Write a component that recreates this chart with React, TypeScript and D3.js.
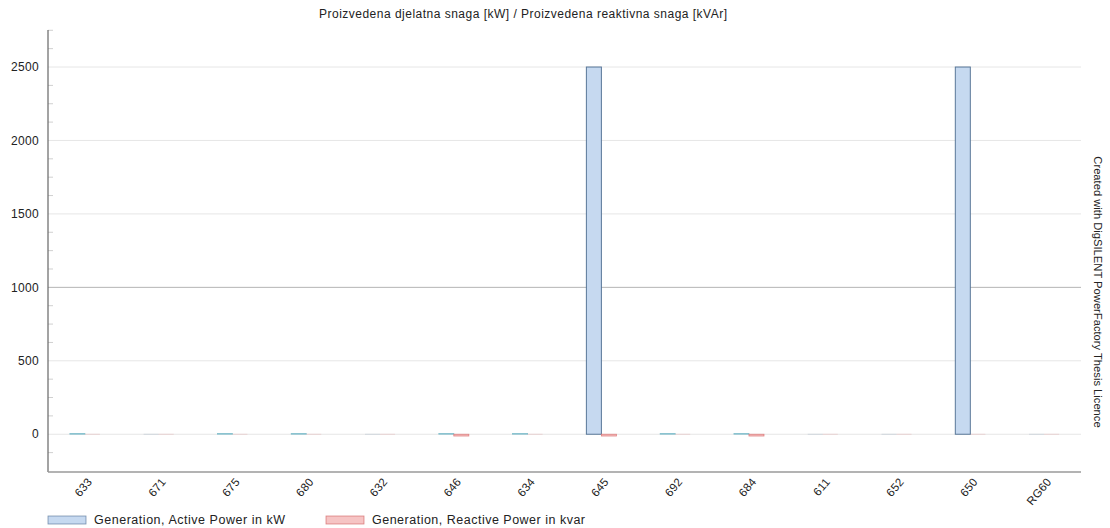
import React from "react";
import * as d3 from "d3";

const categories = ["633", "671", "675", "680", "632", "646", "634", "645", "692", "684", "611", "652", "650", "RG60"];
const activePower = [5, 0, 5, 5, 0, 5, 5, 2500, 5, 5, 0, 0, 2500, 0];
const reactivePower = [0, 0, 0, 0, 0, -12, 0, -12, 0, -12, 0, 0, 0, 0];
const yTicks = [0, 500, 1000, 1500, 2000, 2500];
const seriesNames = ["Generation, Active Power in kW", "Generation, Reactive Power in kvar"];
const title = "Proizvedena djelatna snaga [kW] / Proizvedena reaktivna snaga [kVAr]";
const sideNote = "Created with DigSILENT PowerFactory Thesis Licence";

const W = 1110, H = 528;
const left = 48, right = 1081, top = 30, bottom = 472;
const font = "'Liberation Sans', Arial, sans-serif";

const fills = ["#c6d9f0", "#f6c4c4"];
const strokes = ["#4a6a8e", "#d05a5a"];
const smallStrokes = ["#6fb8c4", "#d86a6a"];

export default function App() {
  const x = d3.scaleBand<string>().domain(categories).range([left, right]).paddingInner(0.593).paddingOuter(0.2965);
  const sub = d3.scaleBand<string>().domain(["a", "r"]).range([0, x.bandwidth()]);
  const y = d3.scaleLinear().domain([-257, 2752]).range([bottom, top]);
  const minor = d3.range(-125, 2752, 125).filter((v) => v % 500 !== 0);
  const series = [activePower, reactivePower];

  return (
    <div style={{ position: "absolute", left: 0, top: 0 }}>
      <svg width={W} height={H} style={{ display: "block", fontFamily: font }}>
        <rect width={W} height={H} fill="#fff" />
        <text x={319} y={18} fontSize={12} fill="#222" textLength={408} lengthAdjust="spacing">{title}</text>
        {yTicks.map((t) => (
          <line key={t} x1={left} x2={right} y1={y(t)} y2={y(t)} stroke={t === 1000 ? "#b4b4b4" : "#e6e6e6"} strokeWidth={1} />
        ))}
        {minor.map((t) => (
          <line key={"m" + t} x1={left} x2={left + 5} y1={y(t)} y2={y(t)} stroke="#d0d0d0" />
        ))}
        {yTicks.map((t) => (
          <text key={"l" + t} x={39} y={y(t)} dy="0.35em" textAnchor="end" fontSize={12} letterSpacing={0.3} fill="#222">{t}</text>
        ))}
        {categories.map((c, i) =>
          series.map((s, k) => {
            const v = s[i];
            const bx = (x(c) as number) + (sub(k === 0 ? "a" : "r") as number);
            const bw = sub.bandwidth();
            const y0 = y(0), y1 = y(v);
            const yt = Math.min(y0, y1), h = Math.abs(y1 - y0);
            if (v === 0) {
              return <line key={c + k} x1={bx} x2={bx + bw} y1={y0} y2={y0} stroke={strokes[k]} strokeOpacity={0.18} />;
            }
            const big = Math.abs(v) > 100;
            return (
              <g key={c + k}>
                <rect x={bx} y={yt} width={bw} height={Math.max(h, 0.5)} fill={fills[k]} />
                <rect x={bx} y={yt} width={bw} height={Math.max(h, 0.5)} fill="none" stroke={big ? strokes[k] : smallStrokes[k]} strokeWidth={big ? 1 : 0.8} strokeOpacity={big ? 0.9 : 0.8} />
              </g>
            );
          })
        )}
        <line x1={left} x2={left} y1={top} y2={bottom} stroke="#666" strokeWidth={1.2} />
        <line x1={left} x2={right} y1={bottom} y2={bottom} stroke="#9a9a9a" strokeWidth={1.5} />
        {categories.map((c) => {
          const cx = (x(c) as number) + x.bandwidth() / 2 + 8;
          return (
            <text key={"x" + c} transform={`translate(${cx},${482}) rotate(-50)`} textAnchor="end" fontSize={11.5} letterSpacing={0.3} fill="#222">{c}</text>
          );
        })}
        {seriesNames.map((n, k) => {
          const lx = k === 0 ? 48 : 326;
          const len = k === 0 ? 191 : 213;
          return (
            <g key={n}>
              <rect x={lx} y={516} width={38} height={8} fill={fills[k]} stroke={strokes[k]} strokeWidth={0.8} strokeOpacity={0.7} />
              <text x={lx + 46} y={524} fontSize={12.5} fill="#222" textLength={len} lengthAdjust="spacing">{n}</text>
            </g>
          );
        })}
        <text transform={`translate(1094,292) rotate(90)`} textAnchor="middle" fontSize={11.2} fill="#222">{sideNote}</text>
      </svg>
    </div>
  );
}
